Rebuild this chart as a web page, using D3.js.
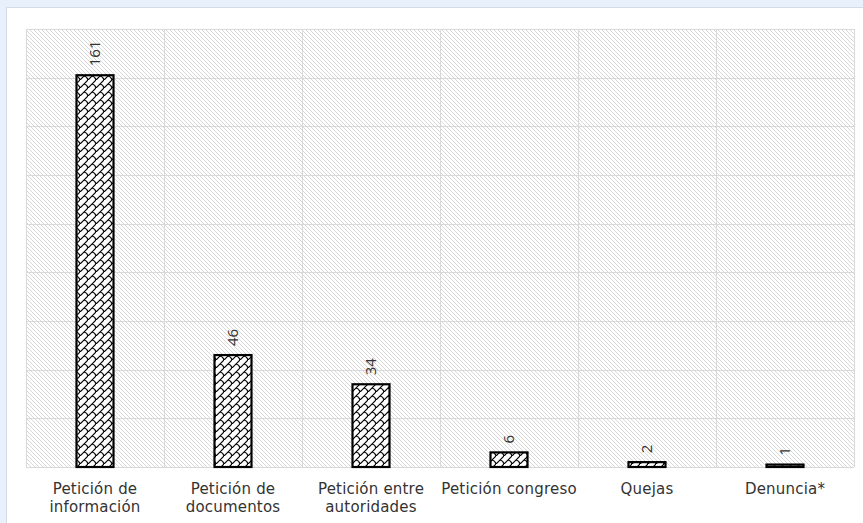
<!DOCTYPE html>
<html><head><meta charset="utf-8">
<script src="https://cdn.jsdelivr.net/npm/d3@7"></script>
<style>html,body{margin:0;padding:0;background:#e8f0fb;}svg{display:block;}</style>
</head><body>
<svg id="chart" width="863" height="523"></svg>
<script>
const categories = [["Petición de","información"],["Petición de","documentos"],["Petición entre","autoridades"],["Petición congreso"],["Quejas"],["Denuncia*"]];
const values = [161, 46, 34, 6, 2, 1];
const yTicks = [0,20,40,60,80,100,120,140,160,180];

const svg = d3.select("#chart");
const W = 863, H = 523;
const m = {left: 26, top: 29, right: 863-854, bottom: 523-467};
const FONT = "'Open Sans', 'Liberation Sans', Arial, sans-serif";
const LFONT = "'DejaVu Sans', 'Open Sans', sans-serif";

const defs = svg.append("defs");
// background hatch
const bg = defs.append("pattern").attr("id","bgHatch").attr("patternUnits","userSpaceOnUse")
  .attr("width",4).attr("height",4);
bg.append("rect").attr("width",4).attr("height",4).attr("fill","#ffffff");
bg.append("path").attr("d","M-1,-1 L5,5 M-1,3 L1,5 M3,-1 L5,1").attr("stroke","#d8d8d8").attr("stroke-width",1);
// diagonal shingle / brick pattern for bars
const sh = defs.append("pattern").attr("id","shingle").attr("patternUnits","userSpaceOnUse")
  .attr("width",8).attr("height",8);
sh.append("rect").attr("width",8).attr("height",8).attr("fill","#ffffff");
sh.append("path")
  .attr("d","M-1,9 L9,-1 M4,4 Q7,4.5 8,8 M-4,4 Q-1,4.5 0,8 M4,-4 Q7,-3.5 8,0 M-4,-4 Q-1,-3.5 0,0")
  .attr("fill","none").attr("stroke","#000").attr("stroke-width",1.2);

// panel
svg.append("rect").attr("x",6.5).attr("y",7.5).attr("width",W).attr("height",H).attr("fill","#fff").attr("stroke","#d5dbe5");

const x = d3.scaleBand().domain(d3.range(categories.length)).range([m.left, W-m.right]).paddingInner(0).paddingOuter(0);
const y = d3.scaleLinear().domain([0,180]).range([H-m.bottom, m.top]);

const g = svg.append("g");
g.append("rect").attr("x",m.left).attr("y",m.top).attr("width",W-m.right-m.left).attr("height",H-m.bottom-m.top).attr("fill","url(#bgHatch)");

// grid
g.append("g").selectAll("line").data(yTicks).join("line")
  .attr("x1",m.left).attr("x2",W-m.right).attr("y1",d=>Math.round(y(d))+0.5).attr("y2",d=>Math.round(y(d))+0.5)
  .attr("stroke","#d9d9d9").attr("stroke-width",1);
const bounds = d3.range(categories.length+1).map(i => i<categories.length ? x(i) : x(categories.length-1)+x.bandwidth());
g.append("g").selectAll("line").data(bounds).join("line")
  .attr("x1",d=>Math.round(d)+0.5).attr("x2",d=>Math.round(d)+0.5).attr("y1",m.top).attr("y2",H-m.bottom)
  .attr("stroke","#d9d9d9").attr("stroke-width",1);

const bw = 37;
g.append("g").selectAll("rect").data(values).join("rect")
  .attr("x",(d,i)=>x(i)+x.bandwidth()/2-bw/2).attr("width",bw)
  .attr("y",d=>y(d)).attr("height",d=>y(0)-y(d))
  .attr("fill","url(#shingle)").attr("stroke","#000").attr("stroke-width",2.2);

g.append("g").selectAll("text").data(values).join("text")
  .attr("transform",(d,i)=>`translate(${x(i)+x.bandwidth()/2},${y(d)-9}) rotate(-90)`)
  .attr("text-anchor","start").attr("dy","0.36em")
  .attr("font-family",FONT).attr("font-size",15).attr("fill","#333")
  .text(d=>d);

const lab = g.append("g").selectAll("text").data(categories).join("text")
  .attr("x",(d,i)=>x(i)+x.bandwidth()/2).attr("y",494)
  .attr("text-anchor","middle").attr("font-family",LFONT).attr("font-size",15)
  .attr("letter-spacing",0.2).attr("fill","#333");
lab.selectAll("tspan").data(d=>d).join("tspan")
  .attr("x",function(){return d3.select(this.parentNode).attr("x");})
  .attr("dy",(d,j)=>j===0?0:18).text(d=>d);
</script>
</body></html>
